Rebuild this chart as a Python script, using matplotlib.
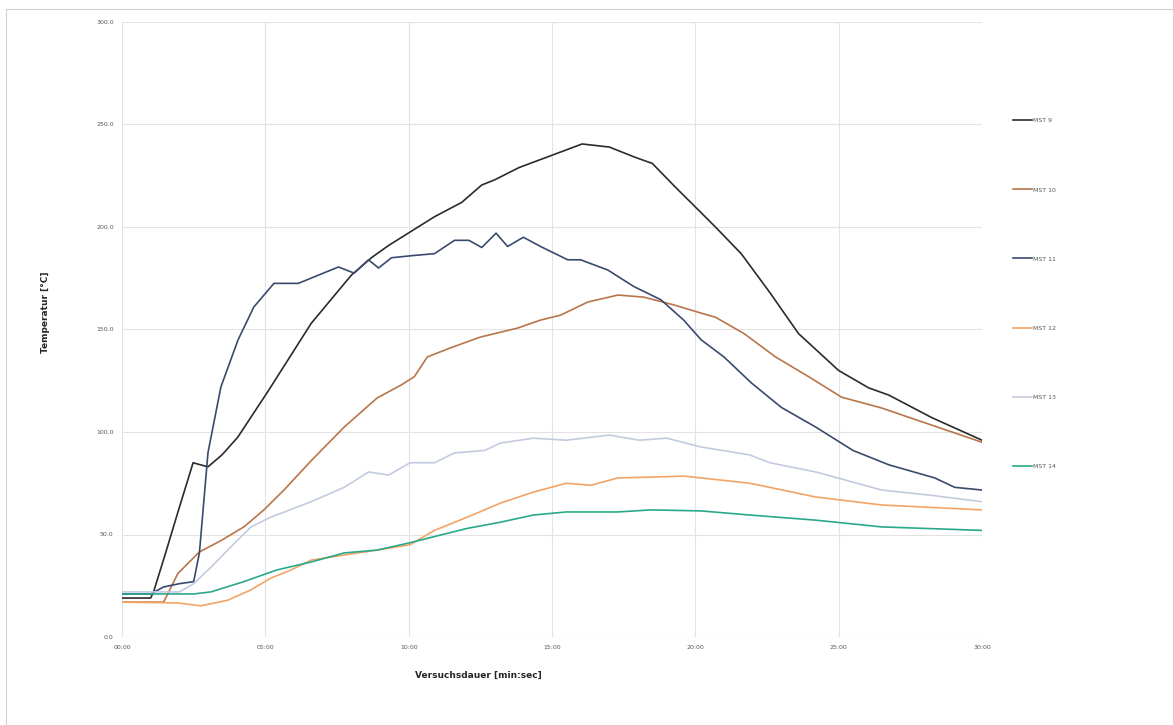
import matplotlib
matplotlib.use("Agg")
import matplotlib.pyplot as plt
from matplotlib.patches import Rectangle

# ---- data (time in minutes, temperature in °C) ----
t9 = [0, 1.0, 1.1, 1.5, 1.93, 2.48, 3.0, 3.5, 4.04, 5.1, 6.6, 8.0, 8.7, 9.3, 10.1, 10.9, 11.85,
      12.55, 13.0, 13.85, 15.0, 16.05, 17.0, 17.9, 18.5, 19.3, 20.2, 20.7, 21.6, 22.6, 23.6, 25.0,
      26.05, 26.75, 28.25, 30.0]
T9 = [19, 19, 22, 40, 60, 85, 83, 89, 97.5, 120, 153, 176.5, 185, 191, 198, 205, 212,
      220.5, 223, 229, 235, 240.5, 239, 234, 231, 219.5, 207, 200, 187, 168, 148, 130,
      121.5, 118, 107, 96]

t10 = [0, 1.45, 1.95, 2.7, 3.45, 4.25, 4.95, 5.65, 6.6, 7.75, 8.9, 9.75, 10.2, 10.65, 11.45, 12.5,
       13.8, 14.6, 15.3, 16.25, 17.3, 18.2, 19.25, 20.2, 20.7, 21.7, 22.8, 23.95, 25.1, 26.5, 27.9, 30.0]
T10 = [17, 17, 31, 41.5, 47, 53.7, 62, 71.7, 86, 102.4, 116.6, 123, 127, 136.6, 141, 146.3,
       150.7, 154.6, 157, 163.4, 166.8, 165.8, 162, 158, 156, 148, 136.6, 127, 117, 111.7, 105, 95]

t11 = [0, 1.0, 1.45, 2.0, 2.5, 2.7, 3.0, 3.45, 4.05, 4.6, 5.3, 6.15, 6.85, 7.55, 8.1, 8.6, 8.95,
       9.4, 10.1, 10.9, 11.6, 12.1, 12.55, 13.05, 13.45, 14.0, 14.6, 15.55, 16.0, 16.95, 17.85,
       18.8, 19.6, 20.2, 21.0, 21.95, 23.0, 24.2, 25.5, 26.75, 28.35, 29.05, 30.0]
T11 = [21, 21, 24.4, 26, 27, 41, 90, 122, 145, 161, 172.5, 172.5, 176.5, 180.5, 177.5, 184, 180,
       185, 186, 187, 193.5, 193.5, 190, 197, 190.5, 195, 190.5, 184, 184, 179, 171,
       164.5, 154.5, 145, 136.6, 124, 112, 102.4, 91, 84, 77.6, 73, 71.7]

t12 = [0, 1.95, 2.75, 3.7, 4.5, 5.2, 5.9, 6.6, 7.75, 8.9, 10.05, 10.9, 12.05, 13.2, 14.35, 15.5,
       16.35, 17.3, 18.45, 19.6, 20.2, 21.9, 24.2, 26.5, 30.0]
T12 = [17, 16.6, 15.2, 18, 23, 28.8, 32.7, 37.5, 40, 42.4, 45, 52, 58.5, 65.3, 70.7, 75,
       74, 77.6, 78, 78.5, 77.6, 75, 68.3, 64.4, 62]

t13 = [0, 2.0, 2.5, 3.1, 3.8, 4.5, 5.2, 6.6, 7.75, 8.6, 9.3, 10.05, 10.9, 11.6, 12.65, 13.2, 14.35,
       15.5, 17.0, 18.05, 19.0, 20.2, 21.9, 22.6, 24.2, 26.5, 28.3, 30.0]
T13 = [22, 22, 26, 34, 44, 53.7, 58.5, 66, 73, 80.5, 79, 85, 85, 89.8, 91, 94.6, 97,
       96, 98.5, 96, 97, 92.7, 88.8, 85, 80.5, 71.7, 69, 66]

t14 = [0, 2.5, 3.1, 4.25, 5.4, 6.6, 7.75, 8.9, 10.05, 10.9, 12.05, 13.2, 14.35, 15.5, 17.3, 18.45,
       20.2, 21.9, 24.2, 26.5, 30.0]
T14 = [21, 21, 22, 27, 32.7, 36.6, 41, 42.4, 46, 49, 53, 56, 59.5, 61, 61, 62,
       61.5, 59.5, 57, 53.7, 52]

series_names = ["MST 9", "MST 10", "MST 11", "MST 12", "MST 13", "MST 14"]
x_ticks = [0, 5, 10, 15, 20, 25, 30]
x_tick_labels = ["00:00", "05:00", "10:00", "15:00", "20:00", "25:00", "30:00"]
y_ticks = [0, 50, 100, 150, 200, 250, 300]
y_tick_labels = ["0.0", "50.0", "100.0", "150.0", "200.0", "250.0", "300.0"]

colors = ["#2b2b2b", "#b9754a", "#3a4a6e", "#f2a466", "#c3cbe0", "#2aa98a"]

W, H = 1173, 725
fig = plt.figure(figsize=(W / 100, H / 100), dpi=100)
ax = fig.add_axes([122 / W, 1 - 637 / H, (982 - 122) / W, (637 - 22) / H])

data = [(t9, T9), (t10, T10), (t11, T11), (t12, T12), (t13, T13), (t14, T14)]
for (t, T), name, c in zip(data, series_names, colors):
    ax.plot(t, T, color=c, lw=1.2, label=name)

ax.set_xlim(0, 30)
ax.set_ylim(0, 300)
ax.set_xticks(x_ticks)
ax.set_xticklabels(x_tick_labels)
ax.set_yticks(y_ticks)
ax.set_yticklabels(y_tick_labels)
ax.tick_params(labelsize=4.5, colors="#595959", length=0, pad=6)
ax.grid(True, color="#e3e3e3", lw=0.8)
for s in ax.spines.values():
    s.set_visible(False)
ax.axhline(0, color="#d9d9d9", lw=0.8)

fig.text(478 / W, 1 - 675 / H, "Versuchsdauer [min:sec]", fontsize=6.5, fontweight="bold",
         ha="center", va="center", color="#262626")
fig.text(45 / W, 1 - 312 / H, "Temperatur [°C]", fontsize=6.5, fontweight="bold",
         rotation=90, ha="center", va="center", color="#262626")

leg = fig.legend(loc="upper left", bbox_to_anchor=(1013 / W, 1 - 118 / H), frameon=False,
                 fontsize=4.5, labelspacing=10.2, handlelength=3.0, handletextpad=0.2,
                 borderpad=0, borderaxespad=0)
for txt in leg.get_texts():
    txt.set_color("#595959")

fig.add_artist(Rectangle((6 / W, -0.05), 1.05, 1 - 9 / H + 0.05, transform=fig.transFigure,
                         fill=False, edgecolor="#d0d0d0", lw=0.8))

fig.savefig("out.png", dpi=100)
